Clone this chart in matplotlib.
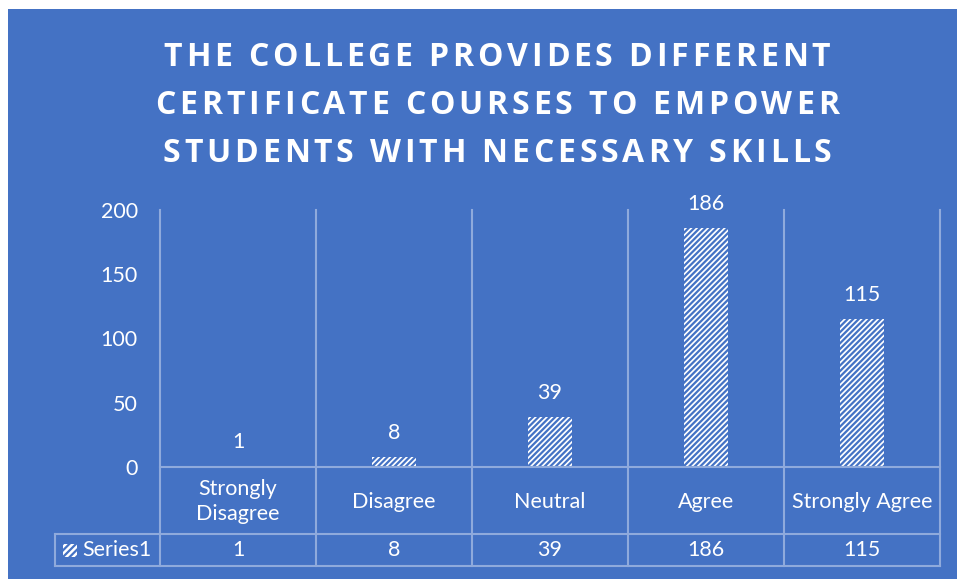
import matplotlib
matplotlib.use("Agg")
import matplotlib.pyplot as plt
from matplotlib.patches import Rectangle
from matplotlib.lines import Line2D

categories = ["Strongly\nDisagree", "Disagree", "Neutral", "Agree", "Strongly Agree"]
values = [1, 8, 39, 186, 115]
series_name = "Series1"
title_lines = ["THE COLLEGE PROVIDES DIFFERENT",
               "CERTIFICATE COURSES TO EMPOWER",
               "STUDENTS WITH NECESSARY SKILLS"]
yticks = [0, 50, 100, 150, 200]

BG = "#4472C4"
GRID = "#8FAADC"
W, H = 957, 579

fig = plt.figure(figsize=(W / 100, H / 100), dpi=100)
fig.patch.set_facecolor("white")

def fx(px):
    return px / W

def fy(py):
    return 1 - py / H

# blue chart area
fig.add_artist(Rectangle((fx(8), 0), 1 - fx(8), fy(9), transform=fig.transFigure,
                         facecolor=BG, edgecolor="none", zorder=0))

body_font = "Lato"
title_font = "Open Sans"
FS = 15.5

# title with letter spacing (drawn character by character)
renderer = fig.canvas.get_renderer()
tracking = 3.8  # px between characters
title_kw = dict(color="white", fontsize=23, fontweight="bold", family=title_font)
for i, line in enumerate(title_lines):
    widths = []
    for ch in line:
        if ch == " ":
            t = fig.text(0, 0, "A A", **title_kw)
            wa = t.get_window_extent(renderer).width
            t.remove()
            t = fig.text(0, 0, "AA", **title_kw)
            wb = t.get_window_extent(renderer).width
            t.remove()
            widths.append(wa - wb)
        else:
            t = fig.text(0, 0, ch, **title_kw)
            widths.append(t.get_window_extent(renderer).width)
            t.remove()
    total = sum(widths) + tracking * (len(line) - 1)
    x = 497 - total / 2
    yb = 66 + i * 48
    for ch, w in zip(line, widths):
        if ch != " ":
            fig.text(fx(x), fy(yb), ch, ha="left", va="baseline", **title_kw)
        x += w + tracking

# plot axes
x0, x1 = 160, 940
y0, y1 = 467, 210
ax = fig.add_axes([fx(x0), fy(y0), fx(x1) - fx(x0), fy(y1) - fy(y0)])
ax.set_facecolor("none")
ax.set_xlim(-0.5, len(categories) - 0.5)
ax.set_ylim(0, 200)
for s in ax.spines.values():
    s.set_visible(False)
plt.rcParams["hatch.linewidth"] = 1.6
xs = list(range(len(categories)))
ax.bar(xs, values, width=0.28, facecolor="white", edgecolor=BG, linewidth=0,
       hatch="//////", zorder=3)
for x, v in zip(xs, values):
    ax.annotate(str(v), (x, v), xytext=(0, 10), textcoords="offset points",
                ha="center", va="bottom", color="white", fontsize=FS, family=body_font)
ax.set_xticks([])
ax.set_yticks(yticks)
ax.set_yticklabels([str(t) for t in yticks], color="white", fontsize=FS, family=body_font)
ax.tick_params(axis="y", length=0, pad=16)

# grid / table lines
col_px = [x0 + (x1 - x0) * k / len(categories) for k in range(len(categories) + 1)]
lw = 1.5
def hline(xa, xb, y):
    fig.add_artist(Line2D([fx(xa), fx(xb)], [fy(y), fy(y)], transform=fig.transFigure,
                          color=GRID, linewidth=lw, zorder=2))
def vline(x, ya, yb):
    fig.add_artist(Line2D([fx(x), fx(x)], [fy(ya), fy(yb)], transform=fig.transFigure,
                          color=GRID, linewidth=lw, zorder=2))

row1_bot = 534
row2_bot = 566
table_left = 55
for cx in col_px:
    vline(cx, y1, row2_bot)
hline(x0, x1, y0)
hline(table_left, x1, row1_bot)
hline(table_left, x1, row2_bot)
vline(table_left, row1_bot, row2_bot)

# category labels and values in table
for k, (cat, v) in enumerate(zip(categories, values)):
    cx = (col_px[k] + col_px[k + 1]) / 2
    fig.text(fx(cx), fy((y0 + row1_bot) / 2 + 1), cat, ha="center", va="center",
             color="white", fontsize=FS, family=body_font, linespacing=1.3)
    fig.text(fx(cx), fy((row1_bot + row2_bot) / 2), str(v), ha="center", va="center",
             color="white", fontsize=FS, family=body_font)

# legend key in table
fig.add_artist(Rectangle((fx(63), fy(557)), fx(77) - fx(63), fy(544) - fy(557),
                         transform=fig.transFigure, facecolor="white", edgecolor=BG,
                         linewidth=0, hatch="/////", zorder=3))
fig.text(fx(82), fy((row1_bot + row2_bot) / 2), series_name, ha="left", va="center",
         color="white", fontsize=FS, family=body_font)

fig.savefig("out.png", dpi=100, facecolor=fig.get_facecolor())
